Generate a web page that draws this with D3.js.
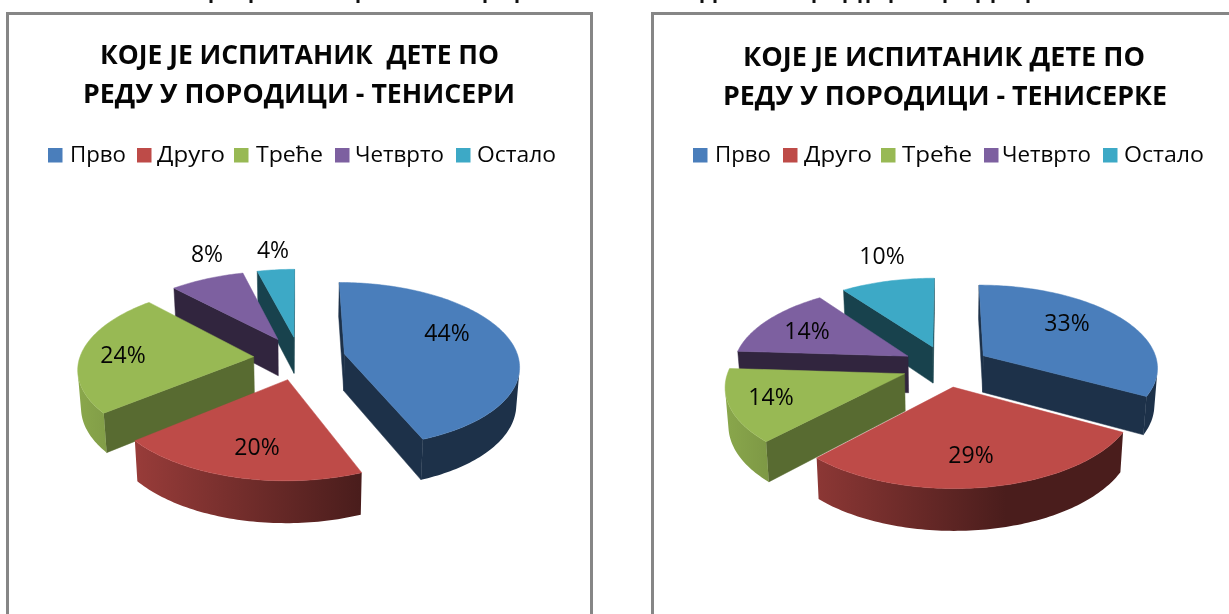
<!DOCTYPE html>
<html>
<head>
<meta charset="utf-8">
<script src="https://cdn.jsdelivr.net/npm/d3@7/dist/d3.min.js"></script>
<style>
html,body{margin:0;padding:0;background:#fff;overflow:hidden}
svg{display:block;filter:blur(0.4px)}
text{font-family:"Open Sans","Noto Sans",sans-serif;fill:#050505}
</style>
</head>
<body>
<svg id="chart" width="1229" height="614"></svg>
<script>
// Data
const categories = ["Прво","Друго","Треће","Четврто","Остало"];
const malePlayers = [44,20,24,8,4];
const femalePlayers = [33,29,14,14,10];
const titleMale = ["КОЈЕ ЈЕ ИСПИТАНИК  ДЕТЕ ПО","РЕДУ У ПОРОДИЦИ - ТЕНИСЕРИ"];
const titleFemale = ["КОЈЕ ЈЕ ИСПИТАНИК ДЕТЕ ПО","РЕДУ У ПОРОДИЦИ - ТЕНИСЕРКЕ"];

// Styles and layout
const colors = ["#4a7ebb","#be4b48","#98b954","#7d60a0","#3da9c6"];
const sideShade = [0.39,0.39,0.58,0.39,0.39];
const headingStubs = [211,251,358,485,517,702,715,814,845,860,868,891,945,978,993,1028];
const layoutMale = {
  frame:[7.5,13.5,591.5], cx:299.5, cy:358, explode:46, R:174,
  titleY:[64,103], titleX:[[100,499],[83,515]],
  swatchX:[48,137,234,335,456], legendX:[[70,126],[157,225],[256,323],[355,444],[477,556]],
  labels:[[447,341],[257,455],[123,363],[207,262],[273,258]]
};
const layoutFemale = {
  frame:[652.5,13.5,1240], cx:946, cy:366, explode:44, R:175,
  titleY:[66,105], titleX:[[743,1145],[723,1167]],
  swatchX:[693,783,881,984,1103], legendX:[[715,771],[804,872],[902,972],[1002,1091],[1124,1204]],
  labels:[[1067,331],[971,463],[771,405],[807,339],[882,264]]
};
const tilt = 0.47, persp = 0.13, depth = 37, bottomScale = 0.985;

const svg = d3.select("#chart");
svg.append("rect").attr("width",1229).attr("height",614).attr("fill","#fff");
const defs = svg.append("defs");

svg.selectAll("rect.stub").data(headingStubs).join("rect").attr("class","stub")
  .attr("x",d=>d-1.5).attr("y",0).attr("width",3).attr("height",3).attr("fill","#111");

function drawChart(key, values, title, L){
  const R = L.R;
  const g = svg.append("g").attr("class",key);
  const [fx,fy,fr] = L.frame;
  g.append("path").attr("d",`M${fx},620V${fy}H${fr}`+(fr<1229?"V620":""))
    .attr("fill","none").attr("stroke","#868686").attr("stroke-width",3);

  title.forEach((t,i)=>{
    g.append("text").attr("x",L.titleX[i][0]).attr("y",L.titleY[i])
      .attr("textLength",L.titleX[i][1]-L.titleX[i][0]).attr("lengthAdjust","spacingAndGlyphs")
      .attr("font-size",26).attr("font-weight",700).style("white-space","pre").text(t);
  });

  categories.forEach((c,i)=>{
    g.append("rect").attr("x",L.swatchX[i]).attr("y",148).attr("width",14.5).attr("height",14.5).attr("fill",colors[i]);
    g.append("text").attr("x",L.legendX[i][0]).attr("y",162)
      .attr("textLength",L.legendX[i][1]-L.legendX[i][0]).attr("lengthAdjust","spacingAndGlyphs")
      .attr("font-size",22).text(c);
  });

  // perspective projection of a disc point (world units, Y toward the viewer)
  const project = (X,Y,low)=>{
    const s = 1/(1-persp*Y/R);
    const zs = low ? bottomScale : 1;
    return [L.cx+X*s*zs, L.cy+Y*tilt*s*zs+(low?depth*s:0)];
  };
  const shade = d3.scaleLinear().domain([L.cx-230,L.cx+60]).range([0.92,0.39]).clamp(true);
  const dim = (c,f)=>{const r=d3.rgb(c);return d3.rgb(r.r*f,r.g*f,r.b*f).formatHex();};

  const arcs = d3.pie().sort(null).value(d=>d)(values).map((a,i)=>{
    const mid=(a.startAngle+a.endAngle)/2;
    return {i,a,mid,ox:Math.sin(mid)*L.explode,oy:-Math.cos(mid)*L.explode};
  }).sort((p,q)=>q.oy<p.oy?1:-1);

  const line = d3.line();
  arcs.forEach(s=>{
    const col = colors[s.i];
    const n = Math.max(4,Math.ceil((s.a.endAngle-s.a.startAngle)/0.02));
    const ang = d3.range(n+1).map(k=>s.a.startAngle+(s.a.endAngle-s.a.startAngle)*k/n);
    const world = ang.map(t=>[s.ox+R*Math.sin(t),s.oy-R*Math.cos(t)]);
    const top = world.map(w=>project(w[0],w[1],false));
    const low = world.map(w=>project(w[0],w[1],true));
    const apexT = project(s.ox,s.oy,false), apexB = project(s.ox,s.oy,true);

    const gid = `${key}-g${s.i}`;
    const lg = defs.append("linearGradient").attr("id",gid).attr("gradientUnits","userSpaceOnUse")
      .attr("x1",L.cx-230).attr("x2",L.cx+60).attr("y1",0).attr("y2",0);
    lg.append("stop").attr("offset",0).attr("stop-color",dim(col,shade(L.cx-230)));
    lg.append("stop").attr("offset",1).attr("stop-color",dim(col,shade(L.cx+60)));

    // radial side faces
    const faces = [[apexT,top[0],low[0],apexB],[top[n],apexT,apexB,low[n]]];
    faces.forEach(f=>{
      if(d3.polygonArea(f)>0)
        g.append("path").attr("d",line(f)+"Z").attr("fill",dim(col,sideShade[s.i])).attr("stroke",dim(col,sideShade[s.i])).attr("stroke-width",0.5);
    });
    // outer wall: only the segments that face the viewer
    const vis = d3.range(n).filter(k=>d3.polygonArea([top[k],top[k+1],low[k+1],low[k]])>0);
    if(vis.length){
      const k0=vis[0], k1=vis[vis.length-1]+1;
      const wall = top.slice(k0,k1+1).concat(low.slice(k0,k1+1).reverse());
      g.append("path").attr("d",line(wall)+"Z").attr("fill",`url(#${gid})`);
    }
    // top face
    g.append("path").attr("d",line([apexT].concat(top))+"Z").attr("fill",col).attr("stroke",col).attr("stroke-width",0.5);
  });

  values.forEach((v,i)=>{
    g.append("text").attr("x",L.labels[i][0]).attr("y",L.labels[i][1]).attr("text-anchor","middle")
      .attr("font-size",23).text(v+"%");
  });
}

drawChart("male",malePlayers,titleMale,layoutMale);
drawChart("female",femalePlayers,titleFemale,layoutFemale);
</script>
</body>
</html>
